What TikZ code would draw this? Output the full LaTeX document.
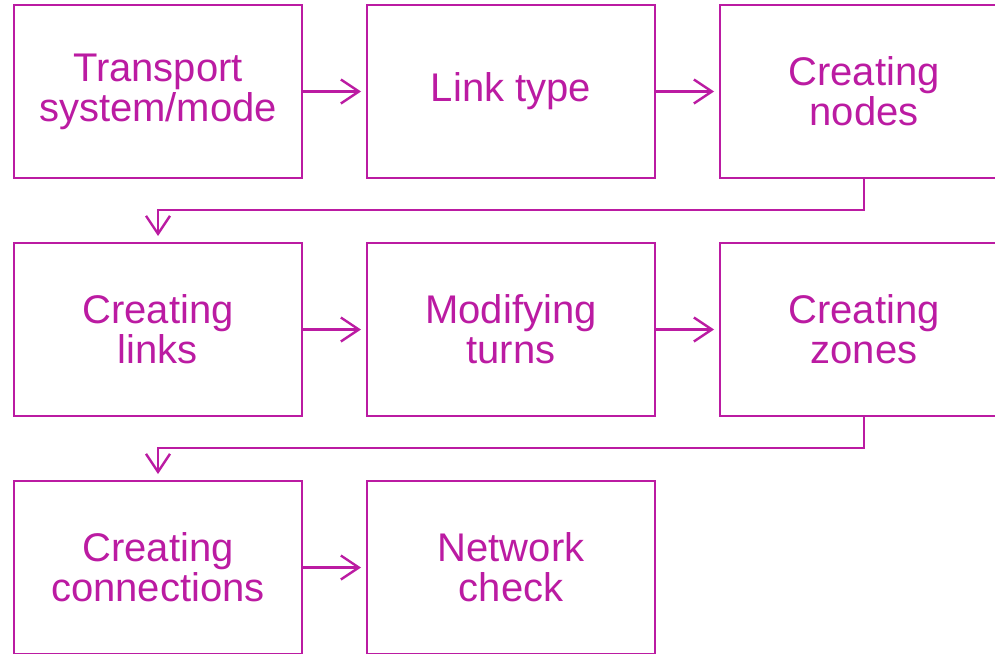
\documentclass[tikz,border=0pt]{standalone}
\usepackage{fontspec}
\setmainfont{Liberation Sans}
\usetikzlibrary{positioning,arrows.meta}
\definecolor{flowpink}{RGB}{187,27,162}

\begin{document}
\begin{tikzpicture}[x=1pt, y=-1pt, node distance=65pt and 65pt,
every node/.style = {shape=rectangle, draw=flowpink, line width=2.4pt,
	align=center, text=flowpink, font=\fontsize{40}{40}\selectfont,
	minimum width=288pt, minimum height=173pt, inner sep=0pt, outer sep=0pt},
link/.style = {draw=flowpink, line width=2.4pt,
	-{Straight Barb[length=18pt,width=24pt,line width=2.4pt]}}]
\useasboundingbox (0,0) rectangle (995,653);
\node (mode) at (158,91.5) {Transport\\system/mode};
\node[right=of mode] (linktype) {Link type};
\node[right=of linktype] (nodes) {Creating\\nodes};
\node[below=of mode] (links) {Creating\\links};
\node[right=of links] (turns) {Modifying\\turns};
\node[right=of turns] (zones) {Creating\\zones};
\node[below=of links] (conn) {Creating\\connections};
\node[right=of conn] (check) {Network\\check};
% row connectors
\draw[link] (mode) -- ([xshift=-6pt]linktype.west);
\draw[link] (linktype) -- ([xshift=-6pt]nodes.west);
\draw[link] (links) -- ([xshift=-6pt]turns.west);
\draw[link] (turns) -- ([xshift=-6pt]zones.west);
\draw[link] (conn) -- ([xshift=-6pt]check.west);
% wrap to next row
\draw[link] (nodes.south) |- ++(0,32) -| ([yshift=7pt]links.north);
\draw[link] (zones.south) |- ++(0,32) -| ([yshift=7pt]conn.north);
\end{tikzpicture}
\end{document}
